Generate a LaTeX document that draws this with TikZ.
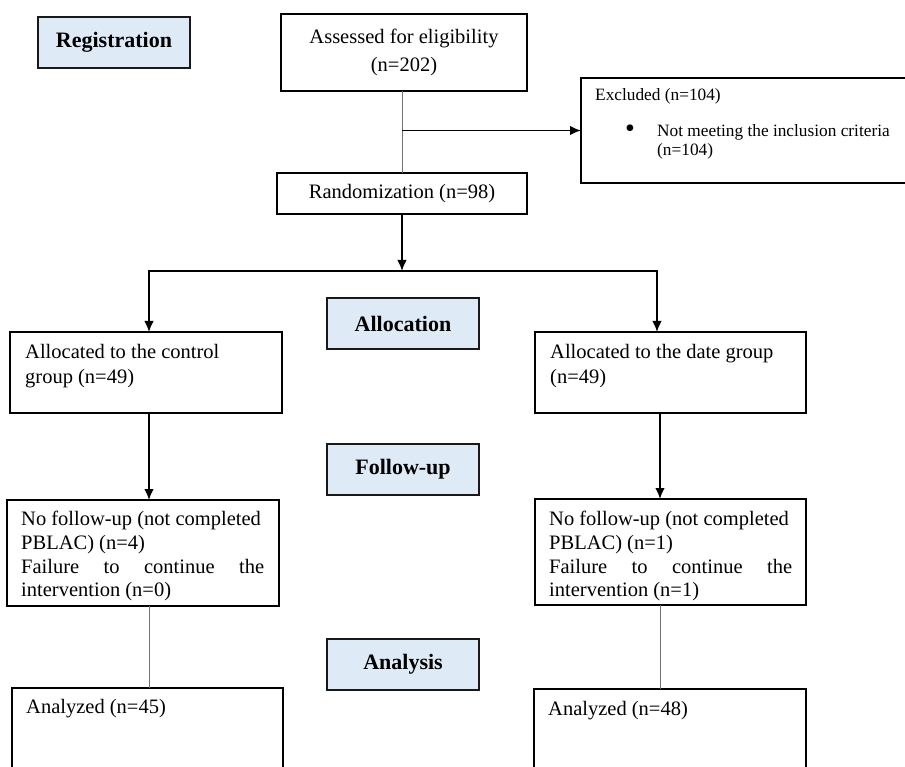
\documentclass[tikz,border=0pt]{standalone}
\usepackage{fontspec}
\setmainfont{Liberation Serif}
\usetikzlibrary{arrows.meta}
\definecolor{headfill}{HTML}{DEEAF6}
\definecolor{thingray}{HTML}{707070}
\begin{document}
\begin{tikzpicture}[x=1pt,y=-1pt,
  box/.style={draw=black,line width=1.6pt,inner sep=0pt,outer sep=0pt,anchor=north west},
  headbox/.style={box,draw=black!90,fill=headfill,font=\fontsize{22}{26}\selectfont\bfseries,minimum width=152pt,minimum height=51pt},
  txt/.style={inner sep=0pt,anchor=north west,align=left},
  arr/.style={line width=1.5pt,-{Latex[length=11pt,width=9.5pt]}},
  thinline/.style={line width=1pt,draw=thingray}]
\useasboundingbox (0,0) rectangle (905,767);
\clip (0,0) rectangle (905,767);
\fill[white] (0,0) rectangle (905,767);

% stage headings
\node[headbox] (reg) at (38,17) {Registration};
\node[headbox] (alloc) at (327,298) {Allocation};
\node[headbox] (follow) at (327,444) {Follow-up};
\node[headbox] (analysis) at (327,639) {Analysis};

% flow boxes
\node[box,minimum width=246pt,minimum height=77pt,align=center,font=\fontsize{20.5}{28}\selectfont] (assess) at (281,14) {Assessed for eligibility\\(n=202)};
\node[box,minimum width=250pt,minimum height=41pt,font=\fontsize{20.5}{24}\selectfont] (rand) at (277,173) {Randomization (n=98)};
\node[box,minimum width=340pt,minimum height=105pt] (excl) at (581,78) {};
\node[box,minimum width=272pt,minimum height=81pt] (ctl) at (10,332) {};
\node[box,minimum width=271pt,minimum height=81pt] (date) at (535,332) {};
\node[box,minimum width=272pt,minimum height=106pt] (nf1) at (7,500) {};
\node[box,minimum width=271pt,minimum height=106pt] (nf2) at (535,499) {};
\node[box,minimum width=271pt,minimum height=130pt] (an1) at (12,688) {};
\node[box,minimum width=272pt,minimum height=130pt] (an2) at (534,689) {};

% texts
\node[txt,font=\fontsize{17.3}{19}\selectfont] (exclt) at ([xshift=14pt,yshift=-10pt]excl.north west) {Excluded (n=104)};
\node[inner sep=0pt,anchor=center,font=\fontsize{28}{28}\selectfont] (bul) at (630,131.5) {\textbullet};
\node[txt,font=\fontsize{17.3}{19}\selectfont] (exclitem) at (657,124) {Not meeting the inclusion criteria\\(n=104)};
\node[txt,font=\fontsize{20.5}{25}\selectfont] (ctlt) at ([xshift=15pt,yshift=-12pt]ctl.north west) {Allocated to the control\\group (n=49)};
\node[txt,font=\fontsize{20.5}{25}\selectfont] (datet) at ([xshift=15pt,yshift=-12pt]date.north west) {Allocated to the date group\\(n=49)};
\node[txt,font=\fontsize{20.5}{23.7}\selectfont] (nf1t) at ([xshift=14pt,yshift=-11pt]nf1.north west) {No follow-up (not completed\\PBLAC) (n=4)\\\makebox[243pt][s]{Failure to continue the}\\intervention (n=0)};
\node[txt,font=\fontsize{20.5}{23.7}\selectfont] (nf2t) at ([xshift=14pt,yshift=-12pt]nf2.north west) {No follow-up (not completed\\PBLAC) (n=1)\\\makebox[243pt][s]{Failure to continue the}\\intervention (n=1)};
\node[txt,font=\fontsize{20.5}{24}\selectfont] (an1t) at ([xshift=14pt,yshift=-11pt]an1.north west) {Analyzed (n=45)};
\node[txt,font=\fontsize{20.5}{24}\selectfont] (an2t) at ([xshift=14pt,yshift=-12pt]an2.north west) {Analyzed (n=48)};

% connectors
\coordinate (split) at (402,271);
\coordinate (sl) at (149,271);
\coordinate (sr) at (657,271);
\coordinate (cl) at (149,0);
\coordinate (cr) at (660,0);
\coordinate (exsplit) at (rand.north |- excl.west);
\draw[thinline] (rand.north |- assess.south) -- (rand.north);
\draw[arr] (exsplit) -- (excl.west);
\draw[arr] (rand.south) -- (split);
\draw[arr] (split) -| (sl |- ctl.north);
\draw[arr] (split) -| (sr |- date.north);
\draw[arr] (cl |- ctl.south) -- (cl |- nf1.north);
\draw[arr] (cr |- date.south) -- (cr |- nf2.north);
\draw[thinline] (cl |- nf1.south) -- (cl |- an1.north);
\draw[thinline] (cr |- nf2.south) -- (cr |- an2.north);
\end{tikzpicture}
\end{document}
